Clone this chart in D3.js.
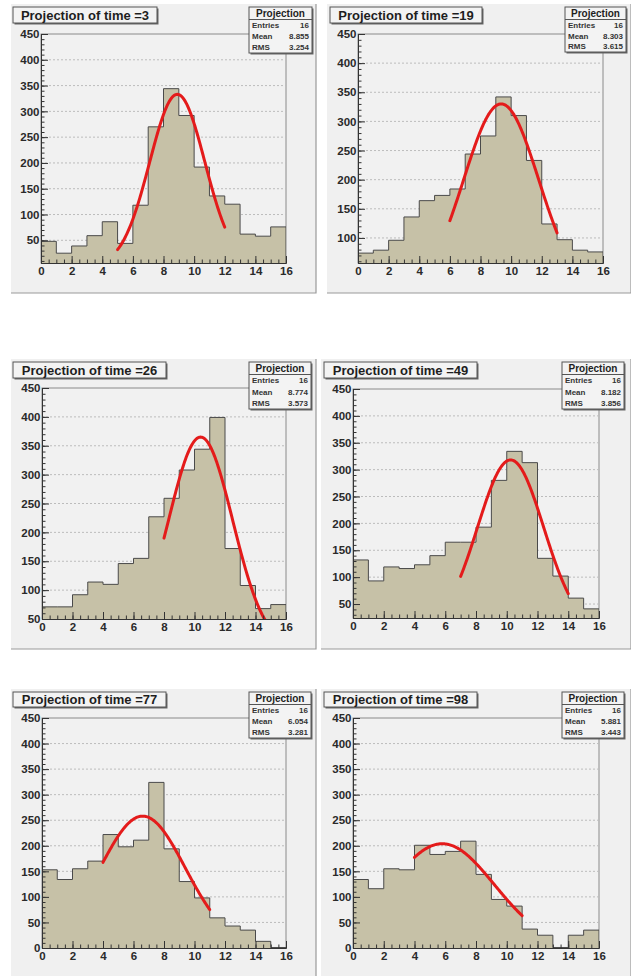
<!DOCTYPE html>
<html><head><meta charset="utf-8">
<script src="https://cdn.jsdelivr.net/npm/d3@7"></script>
<style>body{margin:0;background:#fff}svg{display:block}</style>
</head><body><svg id="c" width="631" height="976"></svg>
<script>
// ---------------- data ----------------
const times = [3, 19, 26, 49, 77, 98];
const bins = d3.range(0, 16);               // bin low edges, width 1
const counts3  = [48, 25, 39, 59, 86, 44, 118, 270, 344, 292, 192, 136, 120, 62, 58, 76];
const counts19 = [74, 79, 96, 136, 164, 173, 184, 244, 275, 342, 310, 233, 124, 97, 79, 76];
const counts26 = [71, 71, 92, 114, 110, 146, 155, 227, 259, 308, 344, 399, 172, 108, 68, 75];
const counts49 = [132, 93, 119, 116, 123, 140, 165, 165, 193, 280, 334, 313, 135, 102, 61, 41];
const counts77 = [153, 134, 155, 170, 222, 198, 211, 324, 194, 130, 98, 59, 43, 35, 13, 1];
const counts98 = [134, 116, 155, 153, 201, 183, 189, 209, 144, 95, 82, 37, 25, 1, 25, 35];
const allCounts = [counts3, counts19, counts26, counts49, counts77, counts98];
const entries = [16, 16, 16, 16, 16, 16];
const means = ["8.855", "8.303", "8.774", "8.182", "6.054", "5.881"];
const rmsValues = ["3.254", "3.615", "3.573", "3.856", "3.281", "3.443"];
// gaussian fit parameters (constant, mean, sigma) and fit range
const fitConst = [333, 330, 365, 318, 258, 204];
const fitMean  = [8.9, 9.35, 10.4, 10.25, 6.6, 5.8];
const fitSigma = [1.8, 2.45, 2.1, 2.15, 2.8, 3.4];
const fitFrom  = [5, 6, 8, 7, 4, 4];
const fitTo    = [12, 13, 15, 14, 11, 11];
const yMin = [6, 57, 50, 24, 0, 0];
const yMax = 450;
const xTicks = [0, 2, 4, 6, 8, 10, 12, 14, 16];
const yTicks = [0, 50, 100, 150, 200, 250, 300, 350, 400, 450];

// ---------------- layout ----------------
const layout = [
  {px:11,  py:4,   pw:305, ph:289, fl:41, ft:34,  fr:286, fb:263, tx:13,  ty:7,   tw:144, th:16, sx:249, sy:7,   sw:63, sh:46},
  {px:327, py:4,   pw:304, ph:289, fl:358, ft:34, fr:603, fb:263, tx:330, ty:7,   tw:152, th:16, sx:565, sy:7,   sw:61, sh:45},
  {px:11,  py:359, pw:305, ph:290, fl:42, ft:388, fr:286, fb:619, tx:13,  ty:362, tw:153, th:16, sx:249, sy:362, sw:62, sh:47},
  {px:321, py:359, pw:310, ph:290, fl:353, ft:389,fr:599, fb:618, tx:324, ty:362, tw:153, th:16, sx:562, sy:362, sw:62, sh:47},
  {px:11,  py:689, pw:305, ph:295, fl:42, ft:718, fr:286, fb:948, tx:13,  ty:692, tw:153, th:15, sx:249, sy:692, sw:62, sh:46},
  {px:321, py:689, pw:310, ph:295, fl:353, ft:718,fr:599, fb:948, tx:324, ty:692, tw:153, th:15, sx:562, sy:692, sw:62, sh:46}
];

const FONT = "'Liberation Sans', Arial, Helvetica, sans-serif";
const svg = d3.select("#c");
const defs = svg.append("defs");

times.forEach((t, i) => {
  const L = layout[i];
  const counts = allCounts[i];
  const g = svg.append("g");

  // pad
  g.append("rect").attr("x", L.px).attr("y", L.py).attr("width", L.pw).attr("height", L.ph)
    .attr("fill", "#f0f0f0");
  g.append("path").attr("d", `M${L.px},${L.py+L.ph}H${L.px+L.pw}V${L.py}`)
    .attr("fill", "none").attr("stroke", "#9a9a9a").attr("stroke-width", 1.2);

  const x = d3.scaleLinear().domain([0, 16]).range([L.fl, L.fr]);
  const y = d3.scaleLinear().domain([yMin[i], yMax]).range([L.fb, L.ft]);

  const clipId = "clip" + i;
  defs.append("clipPath").attr("id", clipId).append("rect")
    .attr("x", L.fl).attr("y", L.ft).attr("width", L.fr - L.fl).attr("height", L.fb - L.ft);

  // frame
  g.append("rect").attr("x", L.fl).attr("y", L.ft).attr("width", L.fr - L.fl).attr("height", L.fb - L.ft)
    .attr("fill", "#f1f1f1").attr("stroke", "#8a8a8a").attr("stroke-width", 1);

  // grid
  g.append("g").selectAll("line").data(yTicks.filter(v => v > yMin[i] && v < yMax)).join("line")
    .attr("x1", L.fl).attr("x2", L.fr).attr("y1", d => y(d)).attr("y2", d => y(d))
    .attr("stroke", "#bcbcbc").attr("stroke-width", 1).attr("stroke-dasharray", "2,2");

  // histogram
  const stepData = bins.map(b => [b, Math.max(counts[b], yMin[i])]);
  stepData.push([16, Math.max(counts[15], yMin[i])]);
  const hg = g.append("g").attr("clip-path", `url(#${clipId})`);
  hg.append("path").datum(stepData)
    .attr("d", d3.area().x(d => x(d[0])).y0(y(yMin[i])).y1(d => y(d[1])).curve(d3.curveStepAfter))
    .attr("fill", "#c6c1a7");
  const outline = [[0, yMin[i]]].concat(stepData).concat([[16, yMin[i]]]);
  hg.append("path").datum(outline)
    .attr("d", d3.line().x(d => x(d[0])).y(d => y(d[1])).curve(d3.curveStepAfter))
    .attr("fill", "none").attr("stroke", "#4a4a4a").attr("stroke-width", 1);

  // fit
  const fx = d3.range(fitFrom[i], fitTo[i] + 1e-9, 0.05);
  const fitPts = fx.map(v => [v, fitConst[i] * Math.exp(-0.5 * Math.pow((v - fitMean[i]) / fitSigma[i], 2))]);
  hg.append("path").datum(fitPts)
    .attr("d", d3.line().x(d => x(d[0])).y(d => y(d[1])))
    .attr("fill", "none").attr("stroke", "#e41b1b").attr("stroke-width", 3)
    .attr("stroke-linecap", "round").attr("stroke-linejoin", "round");

  // axes
  const styleAxis = sel => {
    sel.select(".domain").attr("stroke", "#333").attr("stroke-width", 1);
    sel.selectAll(".tick line").attr("stroke", "#333");
    sel.selectAll("text").attr("font-family", FONT).attr("font-weight", "bold")
      .attr("font-size", "11.5px").attr("fill", "#2a2a2a");
  };
  // x minor
  g.append("g").attr("transform", `translate(0,${L.fb})`)
    .call(d3.axisBottom(x).tickValues(d3.range(0, 16.01, 0.5)).tickSizeInner(-3.5).tickSizeOuter(0).tickFormat(""))
    .call(styleAxis);
  g.append("g").attr("transform", `translate(0,${L.fb})`)
    .call(d3.axisBottom(x).tickValues(xTicks).tickSizeInner(-7).tickSizeOuter(0).tickPadding(4).tickFormat(d3.format("d")))
    .call(styleAxis);
  // y minor
  const yMinor = d3.range(0, 451, 10).filter(v => v >= yMin[i]);
  g.append("g").attr("transform", `translate(${L.fl},0)`)
    .call(d3.axisLeft(y).tickValues(yMinor).tickSizeInner(-3.5).tickSizeOuter(0).tickFormat(""))
    .call(styleAxis);
  g.append("g").attr("transform", `translate(${L.fl},0)`)
    .call(d3.axisLeft(y).tickValues(yTicks.filter(v => v >= yMin[i])).tickSizeInner(-7).tickSizeOuter(0).tickPadding(1.5).tickFormat(d3.format("d")))
    .call(styleAxis);

  // title box
  g.append("rect").attr("x", L.tx + 1.5).attr("y", L.ty + 1.5).attr("width", L.tw).attr("height", L.th).attr("fill", "#666");
  g.append("rect").attr("x", L.tx).attr("y", L.ty).attr("width", L.tw).attr("height", L.th)
    .attr("fill", "#f3f3f3").attr("stroke", "#555").attr("stroke-width", 1);
  g.append("text").attr("x", L.tx + L.tw / 2).attr("y", L.ty + L.th / 2 + 4.6)
    .attr("text-anchor", "middle").attr("font-family", FONT).attr("font-weight", "bold")
    .attr("font-size", "13px").attr("fill", "#1e1e1e").text("Projection of time =" + t);

  // stats box
  g.append("rect").attr("x", L.sx + 1.5).attr("y", L.sy + 1.5).attr("width", L.sw).attr("height", L.sh).attr("fill", "#666");
  g.append("rect").attr("x", L.sx).attr("y", L.sy).attr("width", L.sw).attr("height", L.sh)
    .attr("fill", "#f3f3f3").attr("stroke", "#555").attr("stroke-width", 1);
  const hh = 12.5;
  g.append("line").attr("x1", L.sx).attr("x2", L.sx + L.sw).attr("y1", L.sy + hh).attr("y2", L.sy + hh)
    .attr("stroke", "#555").attr("stroke-width", 1);
  g.append("text").attr("x", L.sx + L.sw / 2).attr("y", L.sy + 10)
    .attr("text-anchor", "middle").attr("font-family", FONT).attr("font-weight", "bold")
    .attr("font-size", "10px").attr("fill", "#1e1e1e").text("Projection");
  const rows = [["Entries", String(entries[i])], ["Mean", means[i]], ["RMS", rmsValues[i]]];
  const rh = (L.sh - hh) / 3;
  rows.forEach((r, k) => {
    const by = L.sy + hh + rh * (k + 0.5) + 2.8;
    g.append("text").attr("x", L.sx + 3).attr("y", by).attr("font-family", FONT).attr("font-weight", "bold")
      .attr("font-size", "8px").attr("fill", "#333").text(r[0]);
    g.append("text").attr("x", L.sx + L.sw - 3).attr("y", by).attr("text-anchor", "end").attr("font-family", FONT)
      .attr("font-weight", "bold").attr("font-size", "8px").attr("fill", "#333").text(r[1]);
  });
});
</script></body></html>
